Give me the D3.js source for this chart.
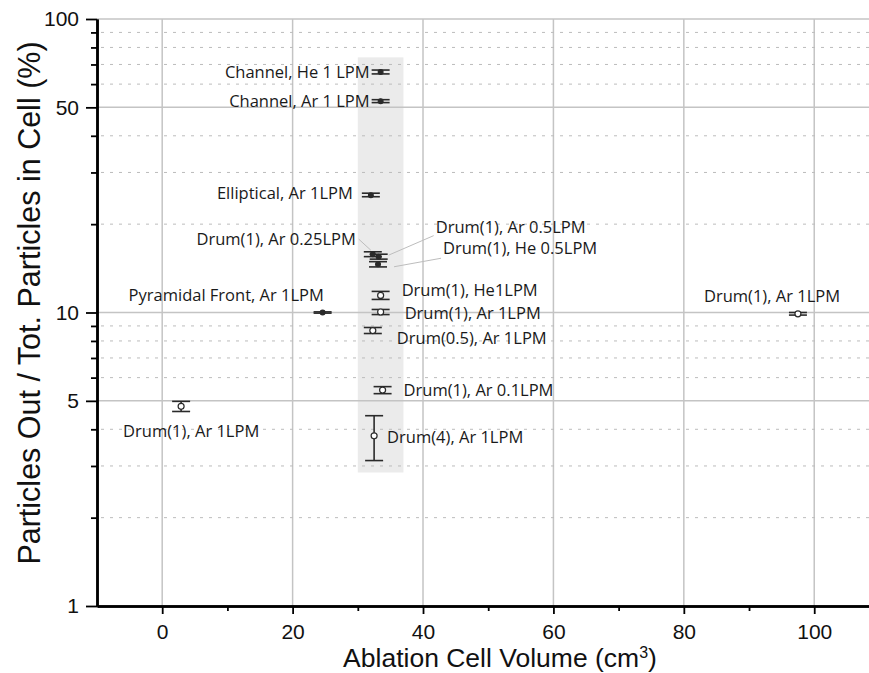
<!DOCTYPE html>
<html>
<head>
<meta charset="utf-8">
<script src="https://cdn.jsdelivr.net/npm/d3@7"></script>
<style>
  html, body { margin: 0; padding: 0; background: #fff; }
  svg { display: block; }
</style>
</head>
<body>
<svg id="chart" width="869" height="673"></svg>
<script>
// Sample names and measured transport ratios
const labels = [
  "Channel, He 1 LPM", "Channel, Ar 1 LPM", "Elliptical, Ar 1LPM",
  "Drum(1), Ar 0.25LPM", "Drum(1), Ar 0.5LPM", "Drum(1), He 0.5LPM",
  "Drum(1), He1LPM", "Drum(1), Ar 1LPM", "Drum(0.5), Ar 1LPM",
  "Drum(1), Ar 0.1LPM", "Drum(4), Ar 1LPM", "Pyramidal Front, Ar 1LPM",
  "Drum(1), Ar 1LPM", "Drum(1), Ar 1LPM"
];
const volume   = [33.5, 33.5, 32.0, 32.3, 33.2, 33.1, 33.5, 33.5, 32.3, 33.8, 32.5, 24.6, 2.9, 97.5];
const ratio    = [66.0, 52.5, 25.1, 15.8, 15.5, 14.6, 11.43, 10.04, 8.68, 5.44, 3.80, 10.0, 4.79, 9.9];
const errLow   = [65.0, 51.9, 24.8, 15.5, 15.2, 14.3, 11.08, 9.84, 8.48, 5.29, 3.13, 9.95, 4.60, 9.80];
const errHigh  = [67.0, 53.1, 25.5, 16.1, 15.8, 14.9, 11.80, 10.24, 8.89, 5.59, 4.45, 10.05, 4.98, 10.0];
const filled   = [true, true, true, true, true, true, false, false, false, false, false, true, false, false];

// Shaded band of the mid-size cells
const bandVolume = [30, 37];
const bandRatio = [2.85, 74];

// Axis ticks
const xMajor = [0, 20, 40, 60, 80, 100];
const xMinor = [10, 30, 50, 70, 90];
const yMajor = [1, 5, 10, 50, 100];
const yMinor = [2, 3, 4, 6, 7, 8, 9, 20, 30, 40, 60, 70, 80, 90];
const ySolidGrid = [5, 10, 50, 100];

// Label placement relative to each marker (pixels): dx, dy, anchor
const labelPlace = [
  [-11, 6, "end"], [-11, 6, "end"], [-18, 4, "end"],
  [-17, -9, "end"], [57, -24, "start"], [65, -10, "start"],
  [21, 1, "start"], [24, 7, "start"], [24, 13, "start"],
  [21, 6, "start"], [13, 7, "start"], [-194, -12, "start"],
  [-58, 31, "start"], [-94, -12, "start"]
];
// Leader lines: marker index, start offset, end offset
const leaders = [
  [3, -14, -15, -2, -4],
  [4, 55, -21, 10, -1.5],
  [5, 63, -6, 16, 2.5]
];

const svg = d3.select("#chart");
const m = { left: 97, right: 869, top: 19, bottom: 606 };

const x = d3.scaleLinear().domain([-10, 108.4]).range([m.left, m.right]);
const y = d3.scaleLog().domain([1, 100]).range([m.bottom, m.top]);

// Shaded band
svg.append("rect")
  .attr("x", x(bandVolume[0]))
  .attr("y", y(bandRatio[1]))
  .attr("width", x(bandVolume[1]) - x(bandVolume[0]))
  .attr("height", y(bandRatio[0]) - y(bandRatio[1]))
  .attr("fill", "#ebebeb");

// Grid
const grid = svg.append("g");
grid.selectAll(".vg").data(xMajor).join("line")
  .attr("x1", d => x(d)).attr("x2", d => x(d))
  .attr("y1", m.top).attr("y2", m.bottom)
  .attr("stroke", "#c4c4c4").attr("stroke-width", 1.5);
grid.selectAll(".hg").data(ySolidGrid).join("line")
  .attr("x1", m.left).attr("x2", m.right)
  .attr("y1", d => y(d)).attr("y2", d => y(d))
  .attr("stroke", "#c4c4c4").attr("stroke-width", 1.5);
grid.selectAll(".hd").data(yMinor).join("line")
  .attr("x1", m.left + 4).attr("x2", m.right)
  .attr("y1", d => y(d)).attr("y2", d => y(d))
  .attr("stroke", "#bcbcbc").attr("stroke-width", 1)
  .attr("stroke-dasharray", "3,6");

// Leader lines
svg.append("g").selectAll("line").data(leaders).join("line")
  .attr("x1", d => x(volume[d[0]]) + d[1]).attr("y1", d => y(ratio[d[0]]) + d[2])
  .attr("x2", d => x(volume[d[0]]) + d[3]).attr("y2", d => y(ratio[d[0]]) + d[4])
  .attr("stroke", "#bdbdbd").attr("stroke-width", 1);

// Axes
function styleAxis(g) {
  g.select(".domain").attr("stroke", "#000").attr("stroke-width", 2.5);
  g.selectAll(".tick line").attr("stroke", "#000").attr("stroke-width", 1.8);
  g.selectAll(".tick text")
    .attr("font-family", "'Liberation Sans', Arial, sans-serif")
    .attr("font-size", 21).attr("fill", "#111");
}
const yAxisMinor = svg.append("g").attr("transform", `translate(${m.left},0)`)
  .call(d3.axisLeft(y).tickValues(yMinor).tickSize(6).tickSizeOuter(0).tickFormat(""));
styleAxis(yAxisMinor);
const yAxis = svg.append("g").attr("transform", `translate(${m.left},0)`)
  .call(d3.axisLeft(y).tickValues(yMajor).tickSize(11).tickSizeOuter(0).tickPadding(7).tickFormat(d3.format("d")));
styleAxis(yAxis);

const xAxisMinor = svg.append("g").attr("transform", `translate(0,${m.bottom})`)
  .call(d3.axisBottom(x).tickValues(xMinor).tickSize(5).tickSizeOuter(0).tickFormat(""));
styleAxis(xAxisMinor);
const xAxis = svg.append("g").attr("transform", `translate(0,${m.bottom})`)
  .call(d3.axisBottom(x).tickValues(xMajor).tickSize(8).tickSizeOuter(0).tickPadding(10).tickFormat(d3.format("d")));
styleAxis(xAxis);

// Axis titles
const titleFont = "'Liberation Sans', Arial, sans-serif";
const xt = svg.append("text")
  .attr("x", 500).attr("y", 667)
  .attr("text-anchor", "middle")
  .attr("font-family", titleFont).attr("font-size", 26.5).attr("fill", "#111");
xt.append("tspan").text("Ablation Cell Volume (cm");
xt.append("tspan").attr("dy", -9).attr("font-size", 16).text("3");
xt.append("tspan").attr("dy", 9).text(")");

svg.append("text")
  .attr("transform", "translate(40,303) rotate(-90)")
  .attr("text-anchor", "middle")
  .attr("font-family", titleFont).attr("font-size", 30.5).attr("fill", "#111")
  .text("Particles Out / Tot. Particles in Cell (%)");

// Error bars and markers
const pts = d3.range(volume.length);
const capHalf = 9;
const eb = svg.append("g").attr("stroke", "#2a2a2a").attr("stroke-width", 1.6);
eb.selectAll(".stem").data(pts).join("line")
  .attr("x1", i => x(volume[i])).attr("x2", i => x(volume[i]))
  .attr("y1", i => y(errLow[i])).attr("y2", i => y(errHigh[i]));
eb.selectAll(".capLo").data(pts).join("line")
  .attr("x1", i => x(volume[i]) - capHalf).attr("x2", i => x(volume[i]) + capHalf)
  .attr("y1", i => y(errLow[i])).attr("y2", i => y(errLow[i]));
eb.selectAll(".capHi").data(pts).join("line")
  .attr("x1", i => x(volume[i]) - capHalf).attr("x2", i => x(volume[i]) + capHalf)
  .attr("y1", i => y(errHigh[i])).attr("y2", i => y(errHigh[i]));

svg.append("g").selectAll("circle").data(pts).join("circle")
  .attr("cx", i => x(volume[i])).attr("cy", i => y(ratio[i]))
  .attr("r", i => filled[i] ? 2.4 : 3)
  .attr("fill", i => filled[i] ? "#2a2a2a" : "#fff")
  .attr("stroke", "#2a2a2a").attr("stroke-width", 1.2);

// Point labels
svg.append("g").selectAll("text").data(pts).join("text")
  .attr("x", i => x(volume[i]) + labelPlace[i][0])
  .attr("y", i => y(ratio[i]) + labelPlace[i][1])
  .attr("text-anchor", i => labelPlace[i][2])
  .attr("font-family", "'Open Sans', 'Noto Sans', sans-serif")
  .attr("font-size", 16.5).attr("fill", "#1a1a1a")
  .text(i => labels[i]);
</script>
</body>
</html>
